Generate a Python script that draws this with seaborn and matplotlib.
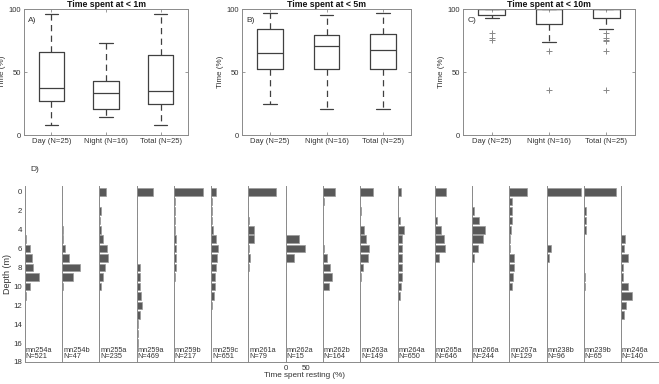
import pandas as pd
import matplotlib
matplotlib.use('Agg')
import matplotlib.pyplot as plt
import seaborn as sns

# ---- panels A-C: box summaries (time, %) ----
groups = ['Day (N=25)', 'Night (N=16)', 'Total (N=25)']
titles = ['Time spent at < 1m', 'Time spent at < 5m', 'Time spent at < 10m']
tags = ['A)', 'B)', 'C)']

lo_1m = [7.7, 14, 7.7]
q1_1m = [27, 20.6, 25]
med_1m = [37, 33, 35]
q3_1m = [66, 42.6, 63.2]
hi_1m = [96.3, 73, 96.3]
fl_1m = [[], [], []]

lo_5m = [24.6, 21, 21]
q1_5m = [52, 52, 52]
med_5m = [65, 70.4, 67.2]
q3_5m = [84.4, 79, 80.4]
hi_5m = [97, 95.2, 97]
fl_5m = [[], [], []]

lo_10m = [93, 74, 84]
q1_10m = [95.2, 88.4, 93]
med_10m = [100, 100, 100]
q3_10m = [100, 100, 100]
hi_10m = [100, 100, 100]
fl_10m = [[81, 77, 75.7], [67, 36], [81, 77.2, 75.7, 74.3, 67, 36]]

# ---- panel D: time spent resting per depth bin (%) ----
depths = list(range(18))
animals = ['mn254a', 'mn254b', 'mn255a', 'mn259a', 'mn259b', 'mn259c', 'mn261a',
           'mn262a', 'mn262b', 'mn263a', 'mn264a', 'mn265a', 'mn266a', 'mn267a',
           'mn238b', 'mn239b', 'mn246a']
n_dives = [521, 47, 235, 469, 217, 651, 79, 15, 164, 149, 650, 646, 244, 129, 96, 65, 140]

rest = {
    'mn254a': [0, 0, 0, 0, 0, 2, 12, 17, 21, 36, 13, 2, 0, 0, 0, 0, 0, 0],
    'mn254b': [0, 0, 0, 0, 2, 2, 7, 17, 45, 26, 2, 0, 0, 0, 0, 0, 0, 0],
    'mn255a': [16, 0, 4, 2, 3, 8, 20, 22, 15, 8, 3, 0, 0, 0, 0, 0, 0, 0],
    'mn259a': [40, 0, 0, 0, 0, 0, 0, 0, 7, 8, 8, 10, 12, 7, 4, 3, 3, 0],
    'mn259b': [72, 2, 2, 2, 2, 4, 4, 6, 4, 2, 0, 0, 0, 0, 0, 0, 0, 0],
    'mn259c': [11, 1, 1, 1, 5, 11, 17, 14, 12, 9, 9, 7, 2, 0, 0, 0, 0, 0],
    'mn261a': [68, 0, 0, 2, 15, 13, 2, 3, 1, 0, 0, 0, 0, 0, 0, 0, 0, 0],
    'mn262a': [0, 0, 0, 0, 0, 34, 48, 21, 0, 0, 0, 0, 0, 0, 0, 0, 0, 0],
    'mn262b': [30, 2, 0, 0, 1, 1, 2, 9, 18, 23, 14, 0, 0, 0, 0, 0, 0, 0],
    'mn263a': [31, 0, 1, 0, 9, 15, 23, 19, 6, 1, 0, 0, 0, 0, 0, 0, 0, 0],
    'mn264a': [8, 2, 2, 6, 16, 12, 12, 11, 11, 11, 8, 6, 1, 0, 0, 0, 0, 0],
    'mn265a': [28, 0, 1, 6, 15, 23, 25, 11, 0, 0, 0, 0, 0, 0, 0, 0, 0, 0],
    'mn266a': [0, 0, 4, 17, 33, 28, 16, 4, 1, 0, 0, 0, 0, 0, 0, 0, 0, 0],
    'mn267a': [44, 7, 7, 6, 5, 1, 1, 12, 12, 9, 8, 0, 0, 0, 0, 0, 0, 0],
    'mn238b': [85, 0, 0, 0, 0, 1, 11, 5, 0, 0, 0, 0, 0, 0, 0, 0, 0, 0],
    'mn239b': [80, 0, 5, 5, 6, 0, 0, 1, 0, 4, 4, 0, 0, 0, 0, 0, 0, 0],
    'mn246a': [0, 1, 0, 0, 0, 9, 7, 17, 6, 6, 18, 28, 13, 7, 0, 0, 0, 0],
}

sns.set_style('white')
plt.rcParams['font.family'] = ['Liberation Sans', 'DejaVu Sans']
ink = '#333333'
frame = '#8a8a8a'

fig = plt.figure(figsize=(6.59, 3.84), dpi=100)

box_sets = [
    (lo_1m, q1_1m, med_1m, q3_1m, hi_1m, fl_1m),
    (lo_5m, q1_5m, med_5m, q3_5m, hi_5m, fl_5m),
    (lo_10m, q1_10m, med_10m, q3_10m, hi_10m, fl_10m),
]
top_rects = [[0.0364, 0.6484, 0.2489, 0.3281],
             [0.3672, 0.6484, 0.2565, 0.3281],
             [0.7026, 0.6484, 0.2610, 0.3281]]

for k, (lo, q1, med, q3, hi, fl) in enumerate(box_sets):
    ax = fig.add_axes(top_rects[k])
    stats = []
    for i, g in enumerate(groups):
        stats.append(dict(label=g, whislo=lo[i], q1=q1[i], med=med[i],
                          q3=q3[i], whishi=hi[i], fliers=fl[i]))
    ax.bxp(stats, positions=[1, 2, 3], widths=0.46, capwidths=0.24,
           boxprops=dict(color='#404040', lw=0.9),
           whiskerprops=dict(color='#404040', lw=0.9, ls=(0, (5, 3.5))),
           capprops=dict(color='#404040', lw=0.9),
           medianprops=dict(color='#404040', lw=0.9),
           flierprops=dict(marker='+', markeredgecolor='#888888', markersize=4,
                           markeredgewidth=0.7))
    ax.set_xlim(0.5, 3.5)
    ax.set_ylim(0, 100)
    ax.set_yticks([0, 50, 100])
    ax.set_xticks([1, 2, 3])
    ax.set_xticklabels(groups)
    ax.tick_params(direction='in', length=2.5, width=0.6, color=frame,
                   labelsize=5.5, labelcolor=ink, pad=2,
                   left=True, right=True, bottom=True, top=True)
    for sp in ax.spines.values():
        sp.set_color(frame)
        sp.set_linewidth(0.7)
    ax.set_ylabel('Time (%)', fontsize=5.8, color=ink, labelpad=2)
    ax.set_title(titles[k], fontsize=6.3, fontweight='bold', color='#111111', pad=1.5)
    ax.text(0.025, 0.9, tags[k], transform=ax.transAxes, fontsize=6, color=ink)

# ---- panel D: one narrow axes per animal ----
col_w = 0.05653
col_units = 93.1
for i, name in enumerate(animals):
    ax = fig.add_axes([0.0379 + i * col_w, 0.0573, col_w, 0.4576])
    df = pd.DataFrame({'depth': depths, 'pct': rest[name]})
    sns.barplot(data=df, x='pct', y='depth', orient='h', native_scale=True,
                color='#595959', edgecolor='#9a9a9a', linewidth=0.5,
                saturation=1, width=0.8, errorbar=None, ax=ax)
    ax.set_xlim(0, col_units)
    ax.set_ylim(18, -0.6)
    ax.set_yticks(range(0, 19, 2))
    ax.set_xlabel('')
    ax.set_ylabel('')
    for side in ['top', 'right']:
        ax.spines[side].set_visible(False)
    ax.spines['left'].set_color(frame)
    ax.spines['bottom'].set_color(frame)
    ax.spines['left'].set_linewidth(0.7)
    ax.spines['bottom'].set_linewidth(0.7)
    ax.tick_params(axis='y', direction='in', length=2, width=0.5, color='#aaaaaa',
                   labelsize=5.7, labelcolor=ink, pad=2, labelleft=(i == 0))
    if i == 7:
        ax.set_xticks([0, 50])
        ax.tick_params(axis='x', length=0, labelsize=5.7, labelcolor=ink, pad=2)
        ax.set_xlabel('Time spent resting (%)', fontsize=5.9, color=ink, labelpad=0.5)
    else:
        ax.set_xticks([])
    if i == 0:
        ax.set_ylabel('Depth (m)', fontsize=6.5, color=ink, labelpad=1)
    ax.text(2, 17.75, f'{name}\nN={n_dives[i]}', fontsize=5.3, color=ink,
            ha='left', va='bottom', linespacing=0.8)

fig.text(30 / 659, 1 - 170 / 384, 'D)', fontsize=6, color=ink, va='center')

fig.savefig('out.png', dpi=100)
